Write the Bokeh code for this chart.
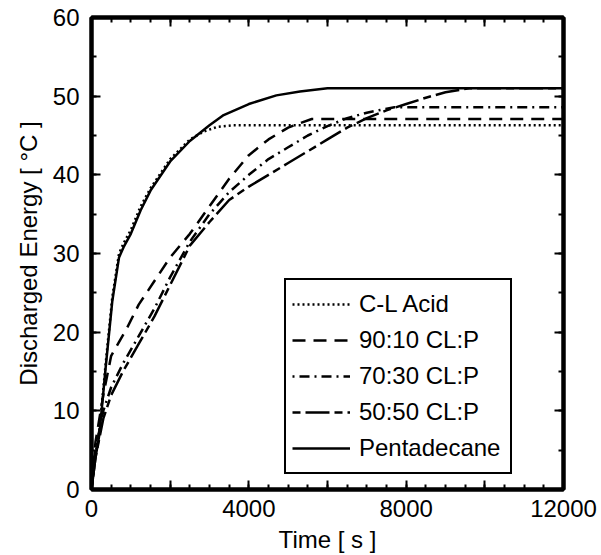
from bokeh.plotting import figure
from bokeh.models import Range1d, SingleIntervalTicker, Legend, LegendItem, LinearAxis
from bokeh.embed import file_html
from bokeh.resources import INLINE

# ---- data ----
t_pent = [0, 100, 200, 360, 530, 700, 815, 1000, 1250, 1500, 2000, 2500, 3000, 3360, 4000, 4700, 5300, 6000, 12000]
e_pent = [0, 4, 7, 15.5, 24, 29.5, 30.8, 32.5, 35.5, 38, 41.7, 44.3, 46.3, 47.6, 49, 50.1, 50.6, 51, 51]

t_cl = [0, 100, 200, 360, 530, 700, 815, 1000, 1250, 1500, 2000, 2500, 2850, 3200, 3600, 12000]
e_cl = [0, 4.5, 7.5, 16, 24.5, 30, 31.3, 33, 36, 38.3, 42, 44.5, 45.5, 46.1, 46.3, 46.3]

t_9010 = [0, 100, 300, 500, 900, 1200, 1600, 2000, 2500, 3000, 3500, 4000, 4500, 5000, 5600, 12000]
e_9010 = [0, 6, 12, 17, 20.5, 23.5, 26.5, 29.5, 32.5, 36, 39.5, 42.5, 44.5, 46, 47.1, 47.1]

t_7030 = [0, 100, 300, 500, 800, 1200, 1600, 2000, 2500, 3000, 3500, 4000, 4500, 5000, 5500, 6000, 6500, 7000, 7700, 12000]
e_7030 = [0, 5, 10, 13, 16, 19.5, 23, 27, 31.5, 35, 37.8, 40, 42, 43.5, 45, 46.2, 47.2, 47.9, 48.6, 48.6]

t_5050 = [0, 100, 300, 500, 800, 1200, 1600, 2000, 2500, 3000, 3500, 4000, 4500, 5000, 5500, 6000, 6500, 7000, 7500, 8000, 8500, 9000, 9600, 12000]
e_5050 = [0, 4, 9, 12, 15, 18.5, 22, 26, 31, 34, 36.8, 38.5, 40, 41.5, 43, 44.5, 46, 47.2, 48.2, 49, 49.8, 50.5, 51, 51]

labels = ["C-L Acid", "90:10 CL:P", "70:30 CL:P", "50:50 CL:P", "Pentadecane"]
x_tick_labels = {0: "0", 2000: "", 4000: "4000", 6000: "", 8000: "8000", 10000: "", 12000: "12000"}

FONT = "Liberation Sans"

p = figure(width=601, height=555, output_backend="svg", toolbar_location=None,
           x_range=Range1d(0, 12000), y_range=Range1d(0, 60),
           min_border_left=91, min_border_right=38, min_border_top=17, min_border_bottom=66,
           x_axis_label="Time [ s ]", y_axis_label="Discharged Energy [ °C ]")
p.xgrid.visible = False
p.ygrid.visible = False
p.outline_line_color = "black"
p.outline_line_width = 4
p.outline_line_alpha = 1
p.background_fill_color = "white"
p.border_fill_color = "white"

p.xaxis.ticker = SingleIntervalTicker(interval=2000, num_minor_ticks=4)
p.yaxis.ticker = SingleIntervalTicker(interval=10, num_minor_ticks=2)
p.xaxis.major_label_overrides = x_tick_labels

ax_top = LinearAxis(ticker=SingleIntervalTicker(interval=2000, num_minor_ticks=4))
ax_right = LinearAxis(ticker=SingleIntervalTicker(interval=10, num_minor_ticks=2))
p.add_layout(ax_top, "above")
p.add_layout(ax_right, "right")

for ax in list(p.xaxis) + list(p.yaxis):
    ax.axis_line_width = 4
    ax.axis_line_color = "black"
    ax.major_tick_in = 9
    ax.major_tick_out = 0
    ax.minor_tick_in = 5
    ax.minor_tick_out = 0
    ax.major_tick_line_width = 2
    ax.minor_tick_line_width = 2
    ax.major_tick_line_color = "black"
    ax.minor_tick_line_color = "black"
    ax.major_label_text_font = FONT
    ax.major_label_text_font_size = "24px"
    ax.major_label_text_color = "black"
    ax.axis_label_text_font = FONT
    ax.axis_label_text_font_size = "24px"
    ax.axis_label_text_font_style = "normal"
    ax.axis_label_text_color = "black"

for ax in (ax_top, ax_right):
    ax.major_label_text_color = None
    ax.major_label_text_font_size = "1px"
    ax.major_label_standoff = 0

for ax in p.below:
    ax.major_label_standoff = 10
    ax.axis_label_standoff = 6
for ax in p.left:
    ax.major_label_standoff = 12
    ax.axis_label_standoff = 8

lw = 2.5
r1 = p.line(t_cl, e_cl, line_color="black", line_width=lw, line_dash="2 3")
r2 = p.line(t_9010, e_9010, line_color="black", line_width=lw, line_dash="13 8")
r3 = p.line(t_7030, e_7030, line_color="black", line_width=lw, line_dash="2 5 10 5")
r4 = p.line(t_5050, e_5050, line_color="black", line_width=lw, line_dash="8 5 24 5")
r5 = p.line(t_pent, e_pent, line_color="black", line_width=lw)

legend = Legend(items=[LegendItem(label=labels[i], renderers=[r]) for i, r in enumerate([r1, r2, r3, r4, r5])],
                location=(193, 15))
legend.border_line_color = "black"
legend.border_line_width = 2
legend.border_line_alpha = 1
legend.background_fill_alpha = 1
legend.label_text_font = FONT
legend.label_text_font_size = "24px"
legend.label_text_color = "black"
legend.glyph_width = 58
legend.glyph_height = 36
legend.label_height = 36
legend.label_width = 145
legend.spacing = 0
legend.padding = 6
legend.margin = 0
legend.label_standoff = 9
p.add_layout(legend, "center")

open("out.html", "w").write(file_html(p, INLINE))
